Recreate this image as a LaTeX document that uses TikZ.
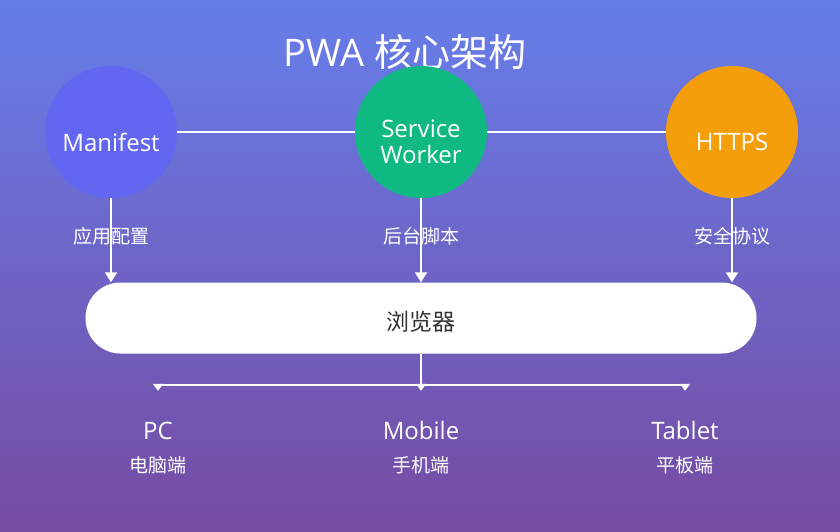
\documentclass[tikz,border=0pt]{standalone}
\usepackage{fontspec}
\setmainfont{Open Sans}
\newfontfamily\cjk{Noto Sans CJK SC}
\usetikzlibrary{arrows.meta}

\definecolor{bgtop}{HTML}{667EEA}
\definecolor{bgbottom}{HTML}{764BA2}
\definecolor{manifestc}{HTML}{6366F1}
\definecolor{workerc}{HTML}{10B981}
\definecolor{httpsc}{HTML}{F59E0B}
\definecolor{darktext}{HTML}{333333}

\begin{document}
\begin{tikzpicture}[x=1pt, y=-1pt,
    hub/.style={circle, minimum size=132pt, inner sep=0pt},
    hubtext/.style={text=white, font=\fontsize{24}{26}\selectfont, align=center, yshift=-10pt},
    role/.style={text=white, font=\cjk\fontsize{19}{22}\selectfont},
    pill/.style={fill=white, rounded corners=35pt, minimum width=671pt, minimum height=71pt,
        text=darktext, font=\cjk\fontsize{23}{26}\selectfont, text height=25pt, text depth=0pt},
    device/.style={text=white, font=\fontsize{24}{26}\selectfont, inner sep=0pt, text height=18pt, text depth=0pt},
    link/.style={white, line width=2pt},
    arrow/.style={-{Triangle[width=12pt,length=10pt]}, white, line width=2pt},
    branch/.style={-{Triangle[width=10pt,length=7pt]}, white, line width=1.5pt, shorten >=30pt}
]
    \fill[top color=bgtop, bottom color=bgbottom] (0,0) rectangle (840,531);

    \node[text=white, font=\fontsize{38}{40}\selectfont] (title) at (405,52) {PWA {\cjk 核心架构}};

    \node[hub, fill=manifestc] (manifest) at (111,132) {};
    \node[hub, fill=workerc] (worker) at (421,132) {};
    \node[hub, fill=httpsc] (https) at (732,132) {};
    \node[hubtext] (manifesttext) at (manifest) {Manifest};
    \node[hubtext] (workertext) at (worker) {Service\\Worker};
    \node[hubtext] (httpstext) at (https) {HTTPS};

    \node[pill] (browser) at (421,318) {浏览器};

    \draw[link] (manifest) -- (worker);
    \draw[link] (worker) -- (https);
    \draw[arrow] (manifest) -- (manifest |- browser.north);
    \draw[arrow] (worker) -- (worker |- browser.north);
    \draw[arrow] (https) -- (https |- browser.north);

    \node[role] (manifestrole) at (111,236) {应用配置};
    \node[role] (workerrole) at (421,236) {后台脚本};
    \node[role] (httpsrole) at (732,236) {安全协议};

    % devices
    \node[device] (pc) at (158,430) {PC};
    \node[device] (mobile) at (421,430) {Mobile};
    \node[device] (tablet) at (685,430) {Tablet};
    \node[role] (pcrole) at (158,465) {电脑端};
    \node[role] (mobilerole) at (421,465) {手机端};
    \node[role] (tabletrole) at (685,465) {平板端};

    \coordinate (split) at (421,385);
    \draw[link] (browser) -- (split);
    \draw[branch] (split) -| (pc.north);
    \draw[branch] (split) -- (mobile.north);
    \draw[branch] (split) -| (tablet.north);
\end{tikzpicture}
\end{document}
